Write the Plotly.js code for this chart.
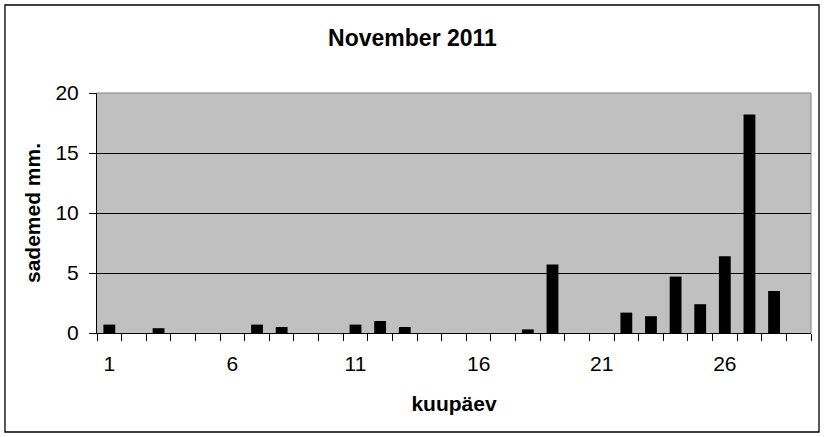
<!DOCTYPE html>
<html>
<head>
<meta charset="utf-8">
<script src="https://cdn.plot.ly/plotly-3.0.1.min.js"></script>
<style>
  html, body { margin: 0; padding: 0; background: #ffffff; }
  #chart { width: 825px; height: 437px; }
</style>
</head>
<body>
<div id="chart"></div>
<script>
"use strict";

// Sademed novembris 2011 (mm päevas)
const days = [1, 2, 3, 4, 5, 6, 7, 8, 9, 10, 11, 12, 13, 14, 15,
              16, 17, 18, 19, 20, 21, 22, 23, 24, 25, 26, 27, 28, 29];
const precipitation = [0.7, 0, 0.4, 0, 0, 0, 0.7, 0.5, 0, 0, 0.7, 1.0, 0.5, 0, 0,
                       0, 0, 0.3, 5.7, 0, 0, 1.7, 1.4, 4.7, 2.4, 6.4, 18.2, 3.5, 0];
const labelDays = [1, 6, 11, 16, 21, 26];
const yTicks = [0, 5, 10, 15, 20];

const font = 'Liberation Sans, Arial, sans-serif';

const trace = {
    x: days,
    y: precipitation,
    type: 'bar',
    width: 0.48,
    marker: { color: '#000000', line: { width: 0 } },
    hoverinfo: 'x+y'
};

const layout = {
    width: 825,
    height: 437,
    margin: { l: 97, r: 14, t: 93, b: 104 },
    paper_bgcolor: '#ffffff',
    plot_bgcolor: '#c0c0c0',
    showlegend: false,
    font: { family: font, color: '#000000', size: 21 },
    title: {
        text: '<b>November 2011</b>',
        font: { family: font, size: 23, color: '#000000' },
        xref: 'container', x: 0.5, xanchor: 'center',
        yref: 'container', y: 0.913, yanchor: 'middle'
    },
    xaxis: {
        range: [0.5, days.length + 0.5],
        tickmode: 'array',
        tickvals: labelDays,
        ticktext: labelDays.map(String),
        ticks: '',
        ticklabelstandoff: 12,
        showgrid: false,
        zeroline: false,
        showline: true,
        linecolor: '#000000',
        linewidth: 1,
        minor: {
            tickmode: 'linear', tick0: 0.5, dtick: 1,
            ticks: 'outside', ticklen: 7, tickcolor: '#000000', tickwidth: 1,
            showgrid: false
        },
        title: { text: '<b>kuupäev</b>', font: { family: font, size: 21 }, standoff: 22 },
        fixedrange: true
    },
    yaxis: {
        range: [0, 20],
        tickmode: 'array',
        tickvals: yTicks,
        ticks: 'outside',
        ticklen: 7,
        tickcolor: '#000000',
        ticklabelstandoff: 6,
        showgrid: true,
        gridcolor: '#000000',
        gridwidth: 1,
        zeroline: false,
        showline: true,
        linecolor: '#000000',
        linewidth: 1,
        title: { text: '<b>sademed mm.</b>', font: { family: font, size: 21 }, standoff: 9 },
        fixedrange: true
    },
    shapes: [
        // plot area border (top, right) in grey
        { type: 'line', xref: 'paper', yref: 'paper', x0: 0, x1: 1, y0: 1, y1: 1,
          line: { color: '#808080', width: 1 }, layer: 'above' },
        { type: 'line', xref: 'paper', yref: 'paper', x0: 1, x1: 1, y0: 0, y1: 1,
          line: { color: '#808080', width: 1 }, layer: 'above' },
        // chart frame
        { type: 'rect', xref: 'paper', yref: 'paper',
          x0: -0.1289, x1: 1.0112, y0: -0.4125, y1: 1.3667,
          line: { color: '#000000', width: 1.3 }, fillcolor: 'rgba(0,0,0,0)', layer: 'above' }
    ]
};

Plotly.newPlot('chart', [trace], layout, { displayModeBar: false, staticPlot: true });
</script>
</body>
</html>
